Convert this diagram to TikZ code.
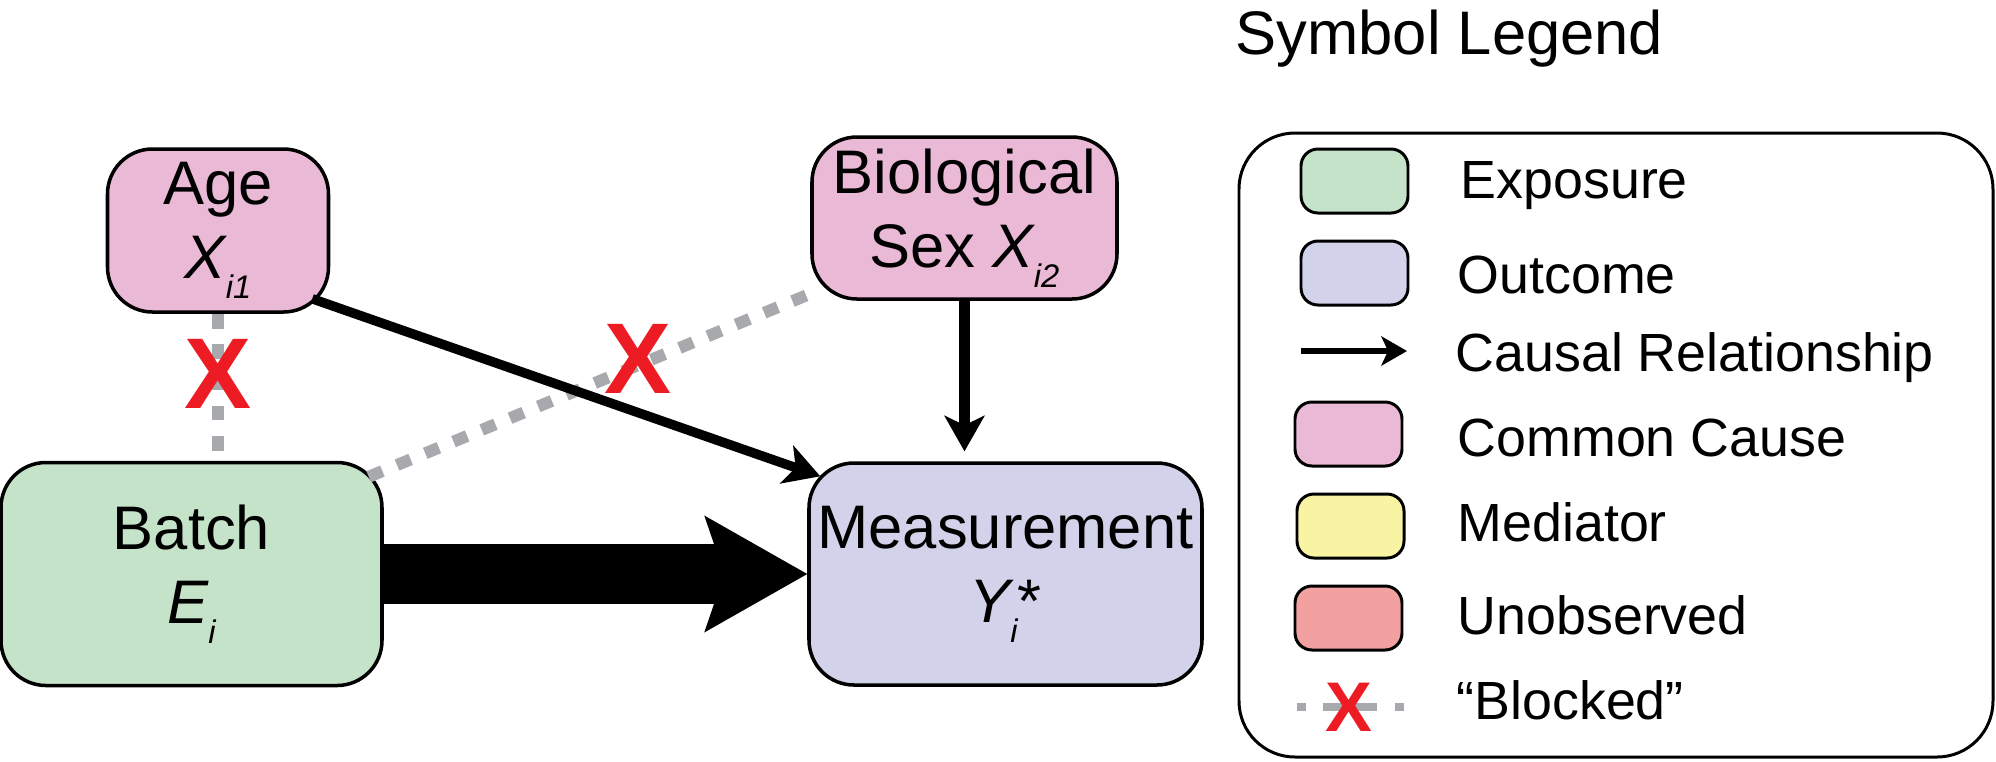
\documentclass[tikz,border=0pt]{standalone}
\usepackage{fontspec}
\setmainfont{Liberation Sans}
\usetikzlibrary{arrows.meta}

\definecolor{expgreen}{HTML}{C5E3C8}
\definecolor{outlilac}{HTML}{D2D2EA}
\definecolor{causepink}{HTML}{EAB9D6}
\definecolor{medyellow}{HTML}{F8F4A3}
\definecolor{unobsred}{HTML}{F2A0A0}
\definecolor{blockgray}{HTML}{A7A9AC}
\definecolor{crossred}{HTML}{ED1C24}

% lowered italic index, as in X_{i1}
\newcommand{\lowsub}[1]{\raisebox{-5.7pt}{\fontsize{9.3}{9.3}\selectfont\itshape #1}}

\begin{document}
\begin{tikzpicture}[
      font=\fontsize{17.5}{21}\selectfont,
      var/.style={rectangle, draw, line width=1pt, rounded corners=0.45cm, align=center, inner sep=0pt},
      swatch/.style={rectangle, draw, line width=0.85pt, rounded corners=0.17cm, minimum width=1.07cm, minimum height=0.64cm},
      keytext/.style={anchor=base west, inner sep=0pt, font=\fontsize{15.3}{18}\selectfont},
      causal/.style={line width=2.7pt, -{Stealth[length=0.36cm, width=0.41cm, inset=0.1cm, line width=0pt]}},
      blocked/.style={draw=blockgray, line width=3.4pt, dash pattern=on 4.2pt off 4.5pt},
      cross/.style={text=crossred, inner sep=0pt, font=\fontsize{28.6}{28.6}\selectfont\bfseries}
    ]
    \useasboundingbox (0,0) rectangle (19.96,-7.61);

    % diagram
    \node[var, fill=causepink, minimum width=2.21cm, minimum height=1.63cm] (age) at (2.18,-2.305)
      {Age\\{\itshape X}\lowsub{i1}};
    \node[var, fill=causepink, minimum width=3.05cm, minimum height=1.62cm] (bio) at (9.645,-2.18)
      {Biological\\Sex {\itshape X}\lowsub{i2}};
    \node[var, fill=expgreen, minimum width=3.81cm, minimum height=2.23cm] (batch) at (1.915,-5.74)
      {Batch\\{\itshape E}\lowsub{i}};
    \node[var, fill=outlilac, minimum width=3.93cm, minimum height=2.22cm] (meas) at (10.055,-5.74)
      {Measurement\\{\itshape Y}\lowsub{i}*};

    \draw[blocked] (age.south) -- (age.south |- batch.north)
      node[cross, pos=0.41] {X};
    \draw[blocked] ([xshift=-0.15cm,yshift=-0.16cm]batch.north east) -- ([yshift=0.07cm]bio.south west)
      node[cross, pos=0.61, yshift=0.06cm] {X};

    \draw[causal] ([xshift=-0.18cm,yshift=0.15cm]age.south east) -- ([xshift=0.13cm,yshift=-0.15cm]meas.north west);
    \draw[causal, line width=3.3pt, shorten >=0.1cm] (bio.south) -- (bio.south |- meas.north);
    \draw[line width=0.6cm, -{Stealth[length=1.03cm, width=1.17cm, inset=0.2cm, line width=0pt]}] (batch.east) -- (meas.west);

    % legend
    \node[anchor=base west, inner sep=0pt] (title) at (12.35,-0.54) {Symbol Legend};
    \node[rectangle, draw, line width=0.85pt, rounded corners=0.56cm, minimum width=7.54cm, minimum height=6.24cm] (legend) at (16.16,-4.45) {};

    \node[swatch, fill=expgreen] (keyexp) at (13.545,-1.81) {};
    \node[swatch, fill=outlilac] (keyout) at (13.545,-2.73) {};
    \coordinate (keyarrowa) at (13.01,-3.51);
    \coordinate (keyarrowb) at (14.07,-3.51);
    \node[swatch, fill=causepink] (keycause) at (13.485,-4.34) {};
    \node[swatch, fill=medyellow] (keymed) at (13.505,-5.26) {};
    \node[swatch, fill=unobsred] (keyunobs) at (13.485,-6.18) {};
    \coordinate (keyblocka) at (12.97,-7.07);
    \coordinate (keyblockb) at (14.04,-7.07);

    \draw[line width=1.7pt, -{Stealth[length=0.26cm, width=0.3cm, inset=0.07cm, line width=0pt]}] (keyarrowa) -- (keyarrowb);
    \draw[draw=blockgray, line width=2.3pt, dash pattern=on 2.6pt off 4.8pt on 15.4pt off 5.1pt on 2.6pt off 10pt] (keyblocka) -- (keyblockb)
      node[cross, pos=0.49, font=\fontsize{20}{20}\selectfont\bfseries] {X};

    \node[keytext] (labexp) at (14.60,-1.98) {Exposure};
    \node[keytext] (labout) at (14.57,-2.93) {Outcome};
    \node[keytext] (labcausal) at (14.55,-3.71) {Causal Relationship};
    \node[keytext] (labcause) at (14.57,-4.56) {Common Cause};
    \node[keytext] (labmed) at (14.57,-5.41) {Mediator};
    \node[keytext] (labunobs) at (14.57,-6.34) {Unobserved};
    \node[keytext] (labblock) at (14.56,-7.19) {“Blocked”};
  \end{tikzpicture}
\end{document}
